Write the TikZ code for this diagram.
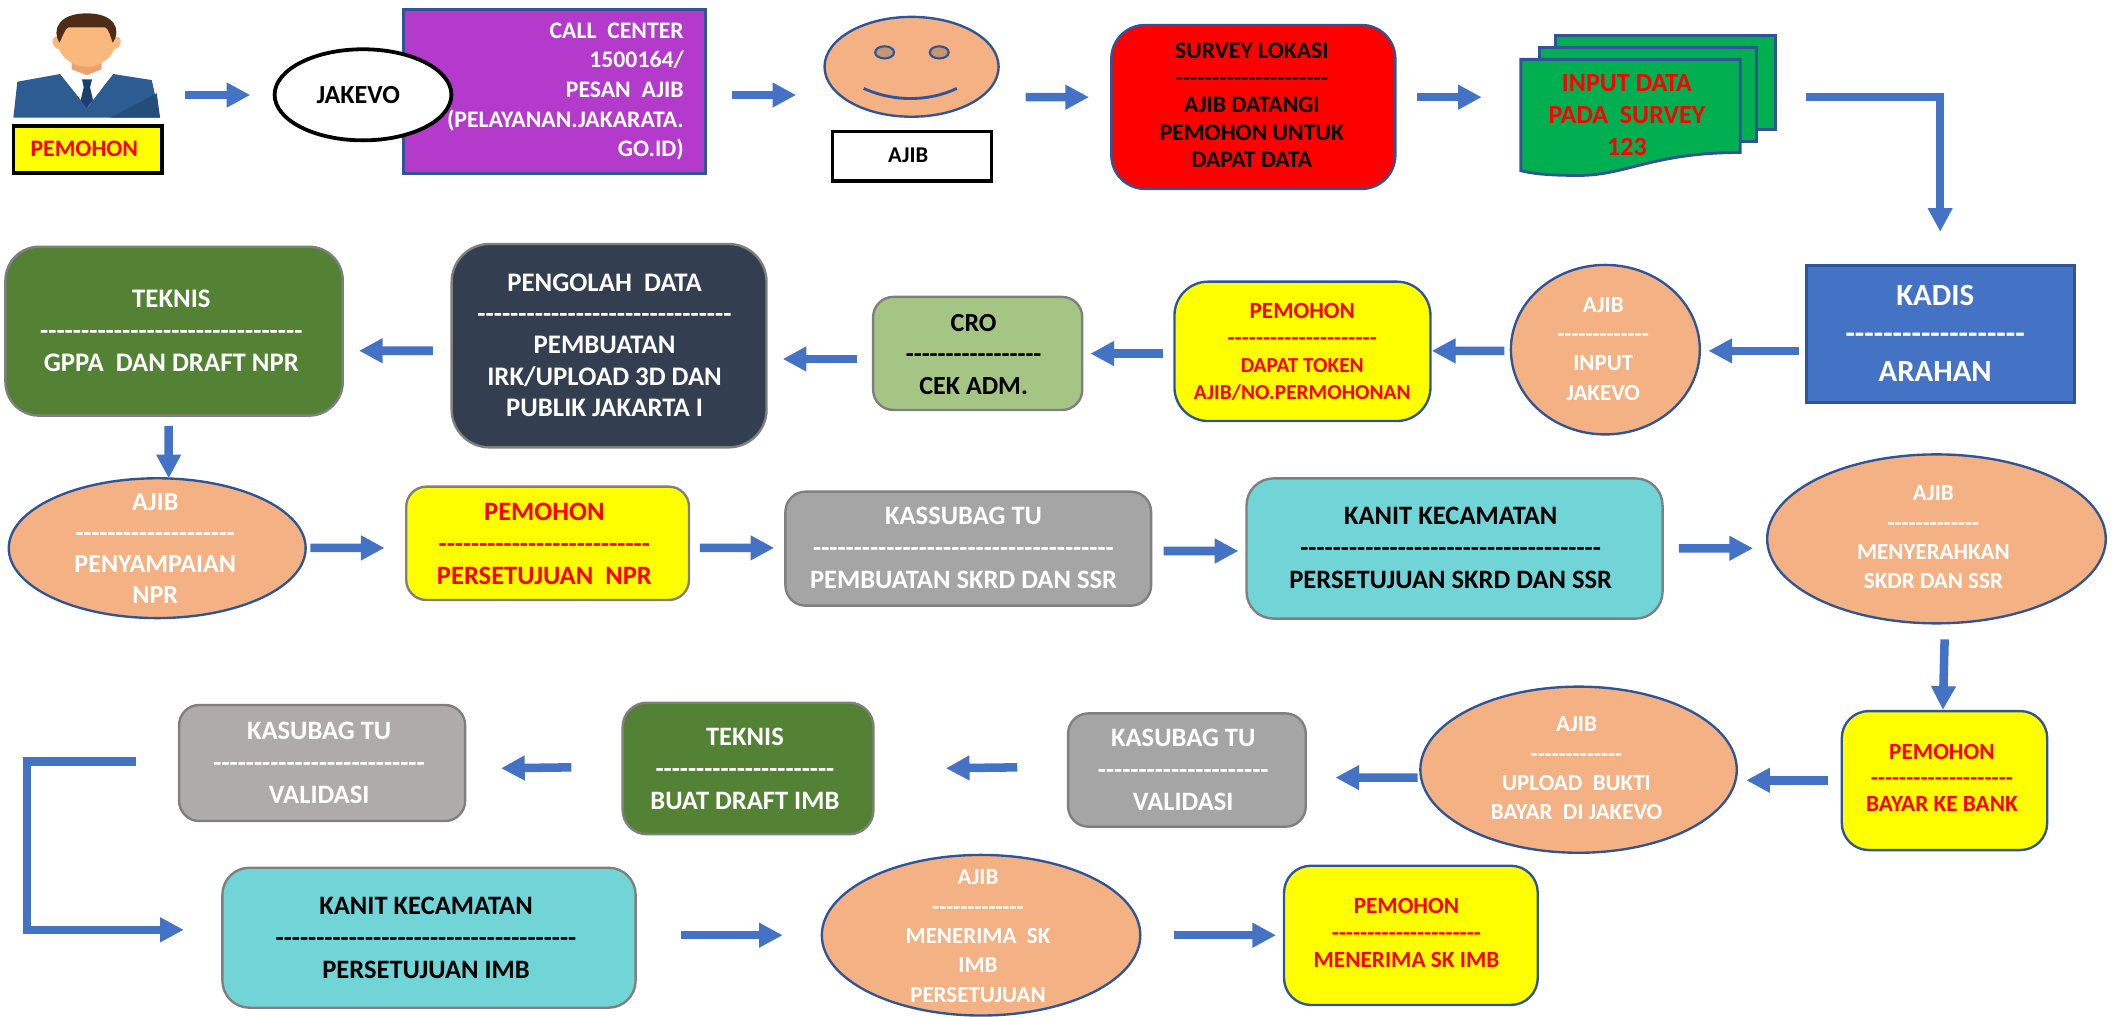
\documentclass[tikz,border=0pt]{standalone}
\usepackage{fontspec}
\usetikzlibrary{shapes.geometric,arrows.meta,calc}
\newfontfamily\cb{Carlito}
\definecolor{blu}{HTML}{4472C4}
\definecolor{edgeb}{HTML}{2F5597}
\definecolor{edgeg}{HTML}{7F7F7F}
\definecolor{peach}{HTML}{F4B183}
\definecolor{violetbox}{HTML}{B43ACB}
\definecolor{teal}{HTML}{71D5D8}
\definecolor{leaf}{HTML}{548235}
\definecolor{slate}{HTML}{333F50}
\definecolor{midgray}{HTML}{A5A5A5}
\definecolor{warmgray}{HTML}{AFABAB}
\definecolor{sage}{HTML}{A5C585}
\definecolor{docgreen}{HTML}{00B050}
\definecolor{hair}{HTML}{4F2C15}
\definecolor{skin}{HTML}{F9B97C}
\definecolor{neck}{HTML}{EFA06E}
\definecolor{suit}{HTML}{2C5C92}
\definecolor{suitd}{HTML}{234D7B}
\definecolor{tie}{HTML}{1B3F6E}
\definecolor{yel}{HTML}{FFFF00}
\definecolor{rd}{HTML}{FF0000}
\definecolor{eyec}{HTML}{C69670}
\tikzset{
  sz/.style 2 args={minimum width=#1*0.02cm,minimum height=#2*0.02cm},
  shp/.style={inner sep=0pt,outer sep=0pt,line width=1pt},
  rr/.style={rectangle,shp,rounded corners=#1*0.02cm},
  sq/.style={rectangle,shp},
  oval/.style={ellipse,shp,fill=peach,draw=edgeb},
  eyeball/.style={ellipse,draw=edgeb,fill=eyec,line width=0.9pt,minimum width=14*0.02cm,minimum height=9*0.02cm,inner sep=0pt},
  tx/.style n args={3}{inner sep=0pt,align=center,text=#1,font={\cb\bfseries\fontsize{#2}{#3}\selectfont}},
  arr/.style={draw=blu,line width=3.6pt,-{Triangle[length=10pt,width=9.9pt]},line join=miter},
}
\begin{document}
\begin{tikzpicture}[x=0.02cm,y=-0.02cm]
\useasboundingbox (0,0) rectangle (1568,752.9);

% person icon
\node[sq,sz={108.7}{77.5}] (man) at (64.25,48.65) {};
\begin{scope}[x=0.00494cm,y=-0.00494cm]
  \fill[suit] (40,353) -- (52,245) -- (180,222) -- (260,322) -- (340,222) -- (455,240) -- (480,353) -- cycle;
  \fill[suitd] (480,353) -- (470,280) -- (330,353) -- cycle;
  \fill[neck] (215,170) -- (305,170) -- (305,215) -- (260,226) -- (215,215) -- cycle;
  \fill[white] (178,216) -- (215,208) -- (260,226) -- (305,208) -- (338,216) -- (300,272) -- (262,322) -- (222,272) -- cycle;
  \fill[tie] (246,238) -- (276,238) -- (270,262) -- (279,300) -- (260,324) -- (242,300) -- (251,262) -- cycle;
  \fill[skin] (170,110) .. controls (150,110) and (155,145) .. (178,148) .. controls (190,180) and (225,200) .. (260,200) .. controls (295,200) and (330,180) .. (342,148) .. controls (365,145) and (370,110) .. (348,110) -- (340,70) -- (180,70) -- cycle;
  \fill[hair] (178,128) .. controls (155,90) and (175,40) .. (260,40) .. controls (345,40) and (365,90) .. (338,128) .. controls (330,105) and (325,85) .. (315,82) -- (205,82) .. controls (195,85) and (190,105) .. (178,128) -- cycle;
\end{scope}

% row 1
\node[sq,sz={110}{34.5},fill=yel,draw=black,line width=1.6pt] (pem1) at (65,110.75) {};
\node[tx={rd}{10}{12}] (pem1t) at (62.5,110.5) {PEMOHON};
\node[sq,sz={224}{121.8},fill=violetbox,draw=edgeb,line width=1.3pt] (call) at (411,67.6) {};
\node[ellipse,shp,sz={131}{67.5},fill=white,draw=black,line width=1.6pt] (jakevo) at (269,70.25) {};
\node[tx={black}{11}{13}] (jakevot) at (265.5,70.4) {JAKEVO};
\node[tx={white}{10}{12.5},align=right,anchor=east] (callt) at (507,67.8) {CALL~~CENTER\\1500164/\\PESAN~~AJIB\\(PELAYANAN.JAKARATA.\\GO.ID)};
\node[oval,sz={129}{74}] (face) at (675.5,49.5) {};
\node[eyeball] (eyel) at (655.5,38.8) {};
\node[eyeball] (eyer) at (696,38.8) {};
\draw[edgeb,line width=1.2pt] (640,65.5) .. controls (662,75.5) and (688,75.5) .. (709,65.5);
\node[sq,sz={117.5}{36.4},fill=white,draw=black,line width=1.4pt] (ajib1) at (675.75,115.8) {};
\node[tx={black}{9.5}{12}] (ajib1t) at (673,114.9) {AJIB};
\node[rr=25,sz={210.5}{121.5},fill=rd,draw=edgeb] (survey) at (928.75,79.25) {};
\node[tx={black}{10}{11.5}] (surveyt) at (927.7,77.8) {SURVEY LOKASI\\---------------------\\AJIB DATANGI\\PEMOHON UNTUK\\DAPAT DATA};
% document stack
\node[sq,sz={188.5}{103.3}] (docs) at (1221.25,78.05) {};
\fill[docgreen,draw=edgeb,line width=1.2pt] (1152.8,26.4) rectangle (1315.5,95.8);
\fill[docgreen,draw=edgeb,line width=1.2pt] (1140.6,35.3) rectangle (1301.5,104.7);
\fill[docgreen,draw=edgeb,line width=1.2pt] (1127,44) -- (1289.5,44) -- (1289.5,113) .. controls (1225,113) and (1205,130) .. (1170,130) .. controls (1150,130) and (1137,129) .. (1127,126.5) -- cycle;
\node[tx={rd}{11}{13.5}] (docst) at (1205.6,85.6) {INPUT DATA\\PADA~~SURVEY\\123};

% row 2
\node[sq,sz={199.2}{102},fill=blu,draw=edgeb,line width=1.3pt] (kadis) at (1437.9,247.4) {};
\node[tx={white}{13}{16.2}] (kadist) at (1434,247) {KADIS\\-------------------\\ARAHAN};
\node[oval,sz={140}{125.6}] (ajib2) at (1189.6,259.1) {};
\node[tx={white}{9.7}{12.4}] (ajib2t) at (1188,258.4) {AJIB\\-------------\\INPUT\\JAKEVO};
\node[rr=25,sz={189.7}{103.3},fill=yel,draw=edgeb] (pem2) at (965.15,260.35) {};
\node[tx={rd}{9.8}{11.3}] (pem2t) at (965,260.6) {PEMOHON\\---------------------\\{\fontsize{9}{11.3}\selectfont DAPAT TOKEN}\\{\fontsize{9}{11.3}\selectfont AJIB/NO.PERMOHONAN}};
\node[rr=15,sz={155}{83.8},fill=sage,draw=edgeg] (cro) at (724.5,261.9) {};
\node[tx={black}{11}{13.2}] (crot) at (721.5,262.7) {CRO\\-----------------\\CEK ADM.};
\node[rr=28,sz={233.3}{150.7},fill=slate,draw=edgeg] (peng) at (451.35,256.15) {};
\node[tx={white}{11.3}{13.2}] (pengt) at (448,255.8) {PENGOLAH~~DATA\\-------------------------------\\PEMBUATAN\\IRK/UPLOAD 3D DAN\\PUBLIK JAKARTA I};
\node[rr=25,sz={250}{125.2},fill=leaf,draw=edgeg] (tek1) at (129,245.4) {};
\node[tx={white}{11.3}{13.5}] (tek1t) at (127,245) {TEKNIS\\--------------------------------\\GPPA~~DAN DRAFT NPR};

% row 3
\node[oval,sz={220}{103.6}] (ajib3) at (116.5,406.2) {};
\node[tx={white}{11}{13.2}] (ajib3t) at (115,406.5) {AJIB\\--------------------\\PENYAMPAIAN\\NPR};
\node[rr=15,sz={209.6}{84},fill=yel,draw=edgeg] (pem3) at (405.8,402.6) {};
\node[tx={rd}{11.2}{13.5}] (pem3t) at (403.4,402.8) {PEMOHON\\--------------------------\\PERSETUJUAN~~NPR};
\node[rr=15,sz={271}{84.5},fill=midgray,draw=edgeg] (kas1) at (717.5,406.55) {};
\node[tx={white}{11.2}{13.5}] (kas1t) at (714,406) {KASSUBAG TU\\-------------------------------------\\PEMBUATAN SKRD DAN SSR};
\node[rr=20,sz={308.3}{103.9},fill=teal,draw=edgeg] (kanit1) at (1077.85,406.45) {};
\node[tx={black}{11.2}{13.5}] (kanit1t) at (1075,405.7) {KANIT KECAMATAN\\-------------------------------------\\PERSETUJUAN SKRD DAN SSR};
\node[oval,sz={250.9}{125.2}] (ajib4) at (1434.95,399.3) {};
\node[tx={white}{9.7}{12.4}] (ajib4t) at (1432.7,398.3) {AJIB\\-------------\\MENYERAHKAN\\SKDR DAN SSR};

% row 4
\node[rr=20,sz={152.2}{103},fill=yel,draw=edgeb] (pem4) at (1440.9,578.4) {};
\node[tx={rd}{9.8}{11}] (pem4t) at (1439,576.5) {PEMOHON\\--------------------\\BAYAR KE BANK};
\node[oval,sz={234.5}{123.1}] (ajib5) at (1169.75,570.35) {};
\node[tx={white}{9.7}{12.4}] (ajib5t) at (1168.2,569.4) {AJIB\\-------------\\UPLOAD~~BUKTI\\BAYAR~~DI JAKEVO};
\node[rr=15,sz={176.1}{84},fill=midgray,draw=edgeg] (kas2) at (879.55,570.6) {};
\node[tx={white}{11.2}{13.5}] (kas2t) at (876.8,570.2) {KASUBAG TU\\---------------------\\VALIDASI};
\node[rr=18,sz={185.9}{97.5},fill=leaf,draw=edgeg] (tek2) at (554.35,569.45) {};
\node[tx={white}{11.2}{13.5}] (tek2t) at (552,569.6) {TEKNIS\\----------------------\\BUAT DRAFT IMB};
\node[rr=15,sz={212}{86},fill=warmgray,draw=edgeg] (kas3) at (238.7,565.4) {};
\node[tx={white}{11.2}{13.5}] (kas3t) at (236.5,565.2) {KASUBAG TU\\--------------------------\\VALIDASI};

% row 5
\node[rr=20,sz={306.2}{103.7},fill=teal,draw=edgeg] (kanit2) at (317.9,694.85) {};
\node[tx={black}{11.2}{13.5}] (kanit2t) at (315.7,694.7) {KANIT KECAMATAN\\-------------------------------------\\PERSETUJUAN IMB};
\node[oval,sz={236}{119}] (ajib6) at (727,693) {};
\node[tx={white}{9.7}{12.4}] (ajib6t) at (724.7,693.6) {AJIB\\-------------\\MENERIMA~~SK\\IMB\\PERSETUJUAN};
\node[rr=20,sz={188}{103.2},fill=yel,draw=edgeb] (pem5) at (1045.5,693.1) {};
\node[tx={rd}{9.8}{11.3}] (pem5t) at (1042.2,691.4) {PEMOHON\\---------------------\\MENERIMA SK IMB};

% connectors
\draw[arr] ($(man.east)+(18.4,21.75)$) -- ($(jakevo.west)+(-18,0.15)$);
\draw[arr] ($(call.east)+(19.6,2.8)$) -- ($(face.west)+(-21,20.9)$);
\draw[arr] ($(face.east)+(20,22.5)$) -- ($(survey.west)+(-16.5,-7.25)$);
\draw[arr] ($(survey.east)+(16,-7.25)$) -- ($(docs.west)+(-29,-6.05)$);
\draw[arr] ($(docs.east)+(22.9,-6.05)$) -| ($(kadis.north)+(-0.2,-24.7)$);
\draw[arr] ($(kadis.west)+(-5.3,12.6)$) -- ($(ajib2.east)+(6.4,0.9)$);
\draw[arr] ($(ajib2.west)+(-4.9,0.9)$) -- ($(pem2.east)+(1,-0.35)$);
\draw[arr] ($(pem2.west)+(-8.3,1.65)$) -- ($(cro.east)+(6,0.1)$);
\draw[arr] ($(cro.west)+(-12.2,4.1)$) -- ($(peng.east)+(12,9.85)$);
\draw[arr] ($(peng.west)+(-14,3.75)$) -- ($(tek1.east)+(12,14.5)$);
\draw[arr] ($(tek1.south)+(-4,7.5)$) -- ($(ajib3.north)+(8.5,0)$);
\draw[arr] ($(ajib3.east)+(3.5,-0.2)$) -- ($(pem3.west)+(-16,3.4)$);
\draw[arr] ($(pem3.east)+(8,3.4)$) -- ($(kas1.west)+(-8.3,-0.55)$);
\draw[arr] ($(kas1.east)+(9.3,1.75)$) -- ($(kanit1.west)+(-6,1.85)$);
\draw[arr] ($(kanit1.east)+(12,-0.15)$) -- ($(ajib4.west)+(-10.5,7)$);
\draw[arr] ($(ajib4.south)+(6.05,11.9)$) -- ($(pem4.north)+(-1.2,-0.9)$);
\draw[arr] ($(pem4.west)+(-10.4,-0.2)$) -- ($(ajib5.east)+(7,7.85)$);
\draw[arr] ($(ajib5.west)+(-2.1,5.85)$) -- ($(kas2.east)+(22,5.6)$);
\draw[arr] ($(kas2.west)+(-37.7,-2)$) -- ($(tek2.east)+(53.6,-0.15)$);
\draw[arr] ($(tek2.west)+(-38,-0.85)$) -- ($(kas3.east)+(26.6,3.9)$);
\draw[arr] ($(kas3.west)+(-32.1,-1)$) -- ++(-80.6,0) |- ($(kanit2.west)+(-28.6,-5.85)$);
\draw[arr] ($(kanit2.east)+(33.5,-1.85)$) -- ($(ajib6.west)+(-29,0)$);
\draw[arr] ($(ajib6.east)+(25.2,0)$) -- ($(pem5.west)+(-5.9,-0.1)$);
\end{tikzpicture}
\end{document}
